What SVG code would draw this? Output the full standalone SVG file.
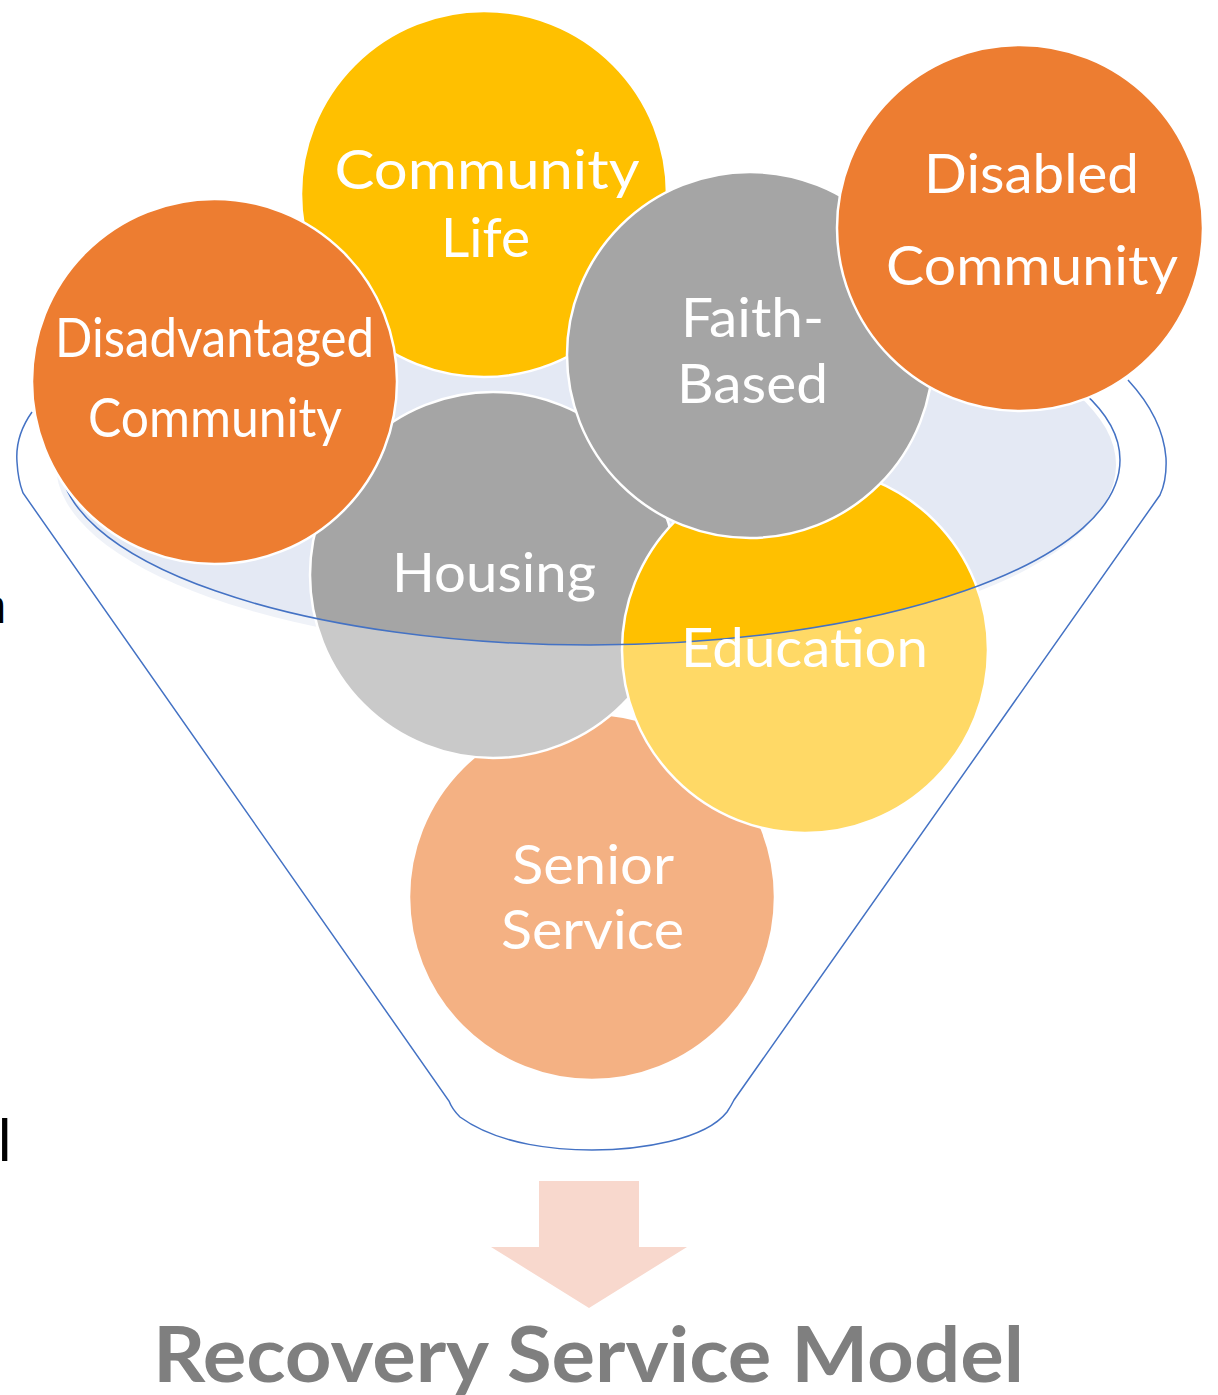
<svg xmlns="http://www.w3.org/2000/svg" width="1218" height="1395" viewBox="0 0 1218 1395">
<style>
  .node { stroke: #ffffff; stroke-width: 2.5; }
  .orange { fill: #ED7D31; }
  .yellow { fill: #FFC000; }
  .gray { fill: #A5A5A5; }
  .lbl { font-family: Lato, "Open Sans", "Liberation Sans", sans-serif; fill: #ffffff; text-anchor: middle; font-size: 55px; }
  .rim { fill: none; stroke: #4472C4; stroke-width: 1.5; }
  .frag { font-family: "Liberation Sans", Arial, sans-serif; fill: #000000; }
</style>
<rect x="0" y="0" width="1218" height="1395" fill="#ffffff"/>

<!-- cut-off text fragments at left edge -->
<text class="frag" x="-20.5" y="623" font-size="48">n</text>
<text class="frag" x="-2" y="1161" font-size="60">l</text>

<!-- funnel mouth (top face) -->
<ellipse id="funnel-top" cx="586" cy="465" rx="530" ry="188" fill="#E4E9F4"/>

<g id="node-senior-service">
  <circle class="node orange" cx="592" cy="897" r="183"/>
  <text class="lbl" x="593" y="884" textLength="162" lengthAdjust="spacingAndGlyphs">Senior</text>
  <text class="lbl" x="592.5" y="949" textLength="183" lengthAdjust="spacingAndGlyphs">Service</text>
</g>
<g id="node-housing">
  <circle class="node gray" cx="493" cy="575" r="183"/>
  <text class="lbl" x="494" y="592" textLength="204" lengthAdjust="spacingAndGlyphs">Housing</text>
</g>
<g id="node-education">
  <circle class="node yellow" cx="805" cy="650" r="183"/>
</g>

<!-- funnel body: translucent front, rim and outline -->
<g id="funnel">
  <path d="M60,460 A530,185 0 0 0 1120,460 L1160,495 L734,1100 Q731,1106 727,1112 C705,1140 640,1150 592,1150 C560,1150 500,1146 460,1117 Q452,1109 449,1101 L23,493 Z" fill="#ffffff" fill-opacity="0.4"/>
  <ellipse class="rim" cx="590" cy="460" rx="530" ry="185"/>
  <path class="rim" d="M32,412 Q15,436 17,462 Q18,480 23,493 L449,1101 Q452,1109 460,1117 C500,1146 560,1150 592,1150 C640,1150 705,1140 727,1112 Q731,1106 734,1100 L1160,495 Q1167,480 1166,458 Q1163,418 1128,380"/>
</g>

<g id="label-education">
  <text class="lbl" x="804.5" y="667" textLength="247" lengthAdjust="spacingAndGlyphs">Education</text>
</g>

<g id="node-community-life">
  <circle class="node yellow" cx="484" cy="194" r="183"/>
  <text class="lbl" x="487" y="189" textLength="305" lengthAdjust="spacingAndGlyphs">Community</text>
  <text class="lbl" x="485.5" y="257" textLength="89" lengthAdjust="spacingAndGlyphs">Life</text>
</g>
<g id="node-disadvantaged-community">
  <circle class="node orange" cx="214.5" cy="381.5" r="182.5"/>
  <text class="lbl" x="214.5" y="357" font-size="47" textLength="319" lengthAdjust="spacingAndGlyphs">Disadvantaged</text>
  <text class="lbl" x="215" y="437" font-size="47" textLength="254" lengthAdjust="spacingAndGlyphs">Community</text>
</g>
<g id="node-faith-based">
  <circle class="node gray" cx="750" cy="355" r="183"/>
  <text class="lbl" x="752.5" y="337" textLength="143" lengthAdjust="spacingAndGlyphs">Faith-</text>
  <text class="lbl" x="752.5" y="403" textLength="151" lengthAdjust="spacingAndGlyphs">Based</text>
</g>
<g id="node-disabled-community">
  <circle class="node orange" cx="1020" cy="228" r="183"/>
  <text class="lbl" x="1031.5" y="193" textLength="215" lengthAdjust="spacingAndGlyphs">Disabled</text>
  <text class="lbl" x="1032" y="285" textLength="292" lengthAdjust="spacingAndGlyphs">Community</text>
</g>

<g id="connectors">
  <polygon points="539,1181 639,1181 639,1247 687,1247 589,1308 491,1247 539,1247" fill="#F8D8CD"/>
</g>

<g id="title">
  <text x="588.5" y="1382" font-family="Lato, 'Open Sans', 'Liberation Sans', sans-serif" font-weight="bold" font-size="77" fill="#7F7F7F" text-anchor="middle" textLength="871" lengthAdjust="spacingAndGlyphs">Recovery Service Model</text>
</g>
</svg>
